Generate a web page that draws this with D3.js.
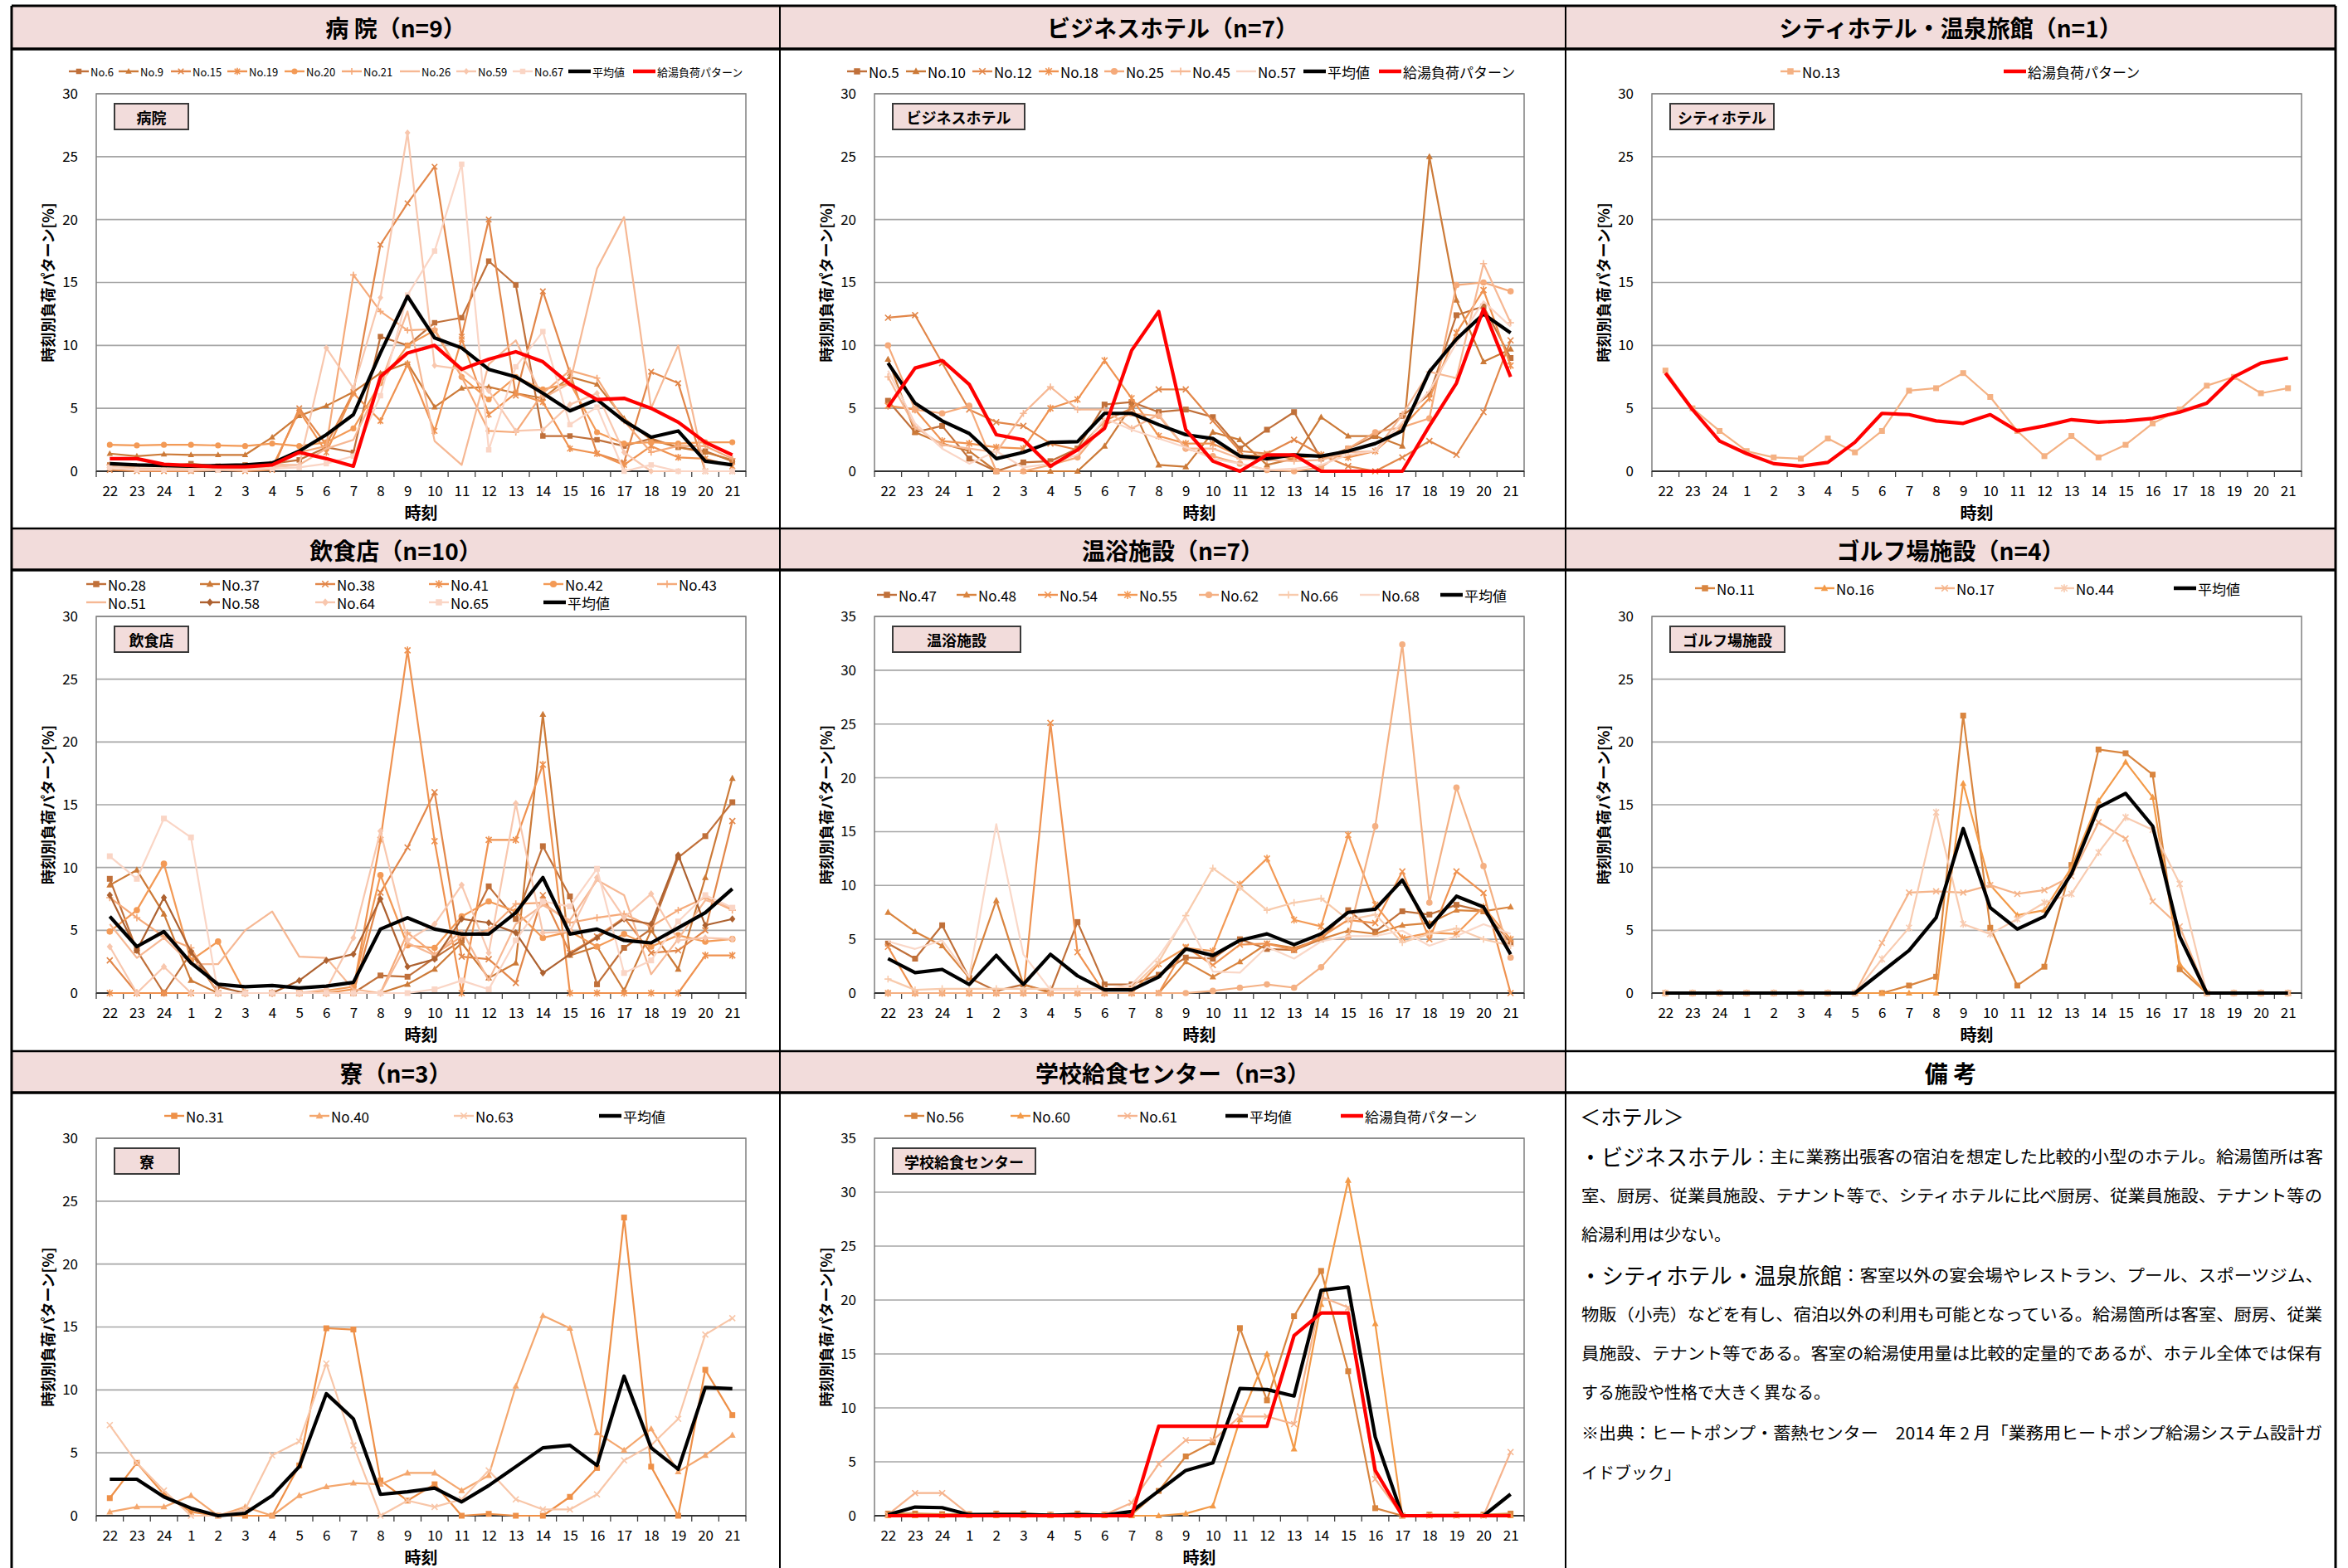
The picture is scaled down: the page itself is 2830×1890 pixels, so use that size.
<!DOCTYPE html>
<html><head><meta charset="utf-8">
<script src="https://cdn.jsdelivr.net/npm/d3@7"></script>
<style>
body{margin:0;background:#fff}
svg{display:block}
text{font-family:"Noto Sans CJK JP","Noto Sans",sans-serif;fill:#000}
</style>
</head><body>
<svg id="c" width="2830" height="1890"></svg>
<script>
// ---------- tick labels ----------
const hours = ["22","23","24","1","2","3","4","5","6","7","8","9","10","11","12","13","14","15","16","17","18","19","20","21"];

// ---------- 病院 ----------
const hosp_No6  = [0.5,0.4,0.4,0.6,0.4,0.5,0.6,0.9,1.9,1.5,10.7,10.0,11.8,12.2,16.7,14.8,2.8,2.8,2.5,2.0,2.6,1.9,1.6,0.8];
const hosp_No9  = [1.4,1.2,1.35,1.3,1.3,1.3,2.7,4.4,5.2,6.3,7.8,8.6,5.1,6.6,6.7,6.2,5.8,7.5,6.9,4.2,2.5,1.9,1.5,0.9];
const hosp_No15 = [0.1,0,0,0,0.1,0,0.1,5.0,2.1,6.3,18.0,21.3,24.2,10.7,20.0,6.0,14.3,7.8,1.4,0.7,7.9,7.0,0,0];
const hosp_No19 = [0.3,0.2,0.2,0.1,0.2,0.2,0.3,4.8,1.5,6.2,4.0,8.5,3.2,10.5,4.5,6.2,5.5,1.8,1.4,0.5,2.0,1.1,1.0,0.4];
const hosp_No20 = [2.1,2.05,2.1,2.1,2.05,2.0,2.2,2.0,2.3,3.4,7.0,10.0,11.2,7.5,5.7,7.5,6.5,7.0,3.1,2.2,2.3,2.2,2.3,2.3];
const hosp_No21 = [0.5,0.4,0.4,0.3,0.3,0.3,0.4,1.5,2.0,15.6,12.7,11.2,11.3,7.5,3.2,3.1,6.2,8.0,7.4,4.0,1.5,2.0,2.0,1.0];
const hosp_No26 = [0.5,0.4,0.4,0.4,0.4,0.4,0.5,0.5,1.8,2.5,7.0,12.7,2.4,0.5,8.5,10.4,5.8,7.0,16.1,20.2,5.0,10.0,0,0];
const hosp_No59 = [0.3,0.2,0.2,0.2,0.2,0.2,0.3,0.5,9.8,6.6,13.8,26.9,8.4,8.1,6.4,3.2,3.3,5.3,6.2,1.5,0,0,0,0];
const hosp_No67 = [0.3,0.1,0.1,0.1,0.1,0.1,0.2,0.3,0.6,1.2,6.0,14.0,17.5,24.4,1.7,8.3,11.1,3.7,5.1,0,0.5,0,0,0];
const hosp_avg  = [0.6,0.5,0.45,0.4,0.45,0.5,0.65,1.6,2.9,4.5,9.4,13.9,10.6,9.8,8.1,7.5,6.2,4.8,5.7,4.0,2.7,3.2,0.8,0.5];
const hosp_pat  = [1.0,1.0,0.55,0.45,0.35,0.35,0.5,1.5,1.0,0.4,7.5,9.4,10.0,8.1,8.9,9.5,8.7,6.9,5.7,5.8,5.0,3.9,2.3,1.3];

// ---------- ビジネスホテル ----------
const biz_No5  = [5.6,3.1,3.6,1.0,0,0.7,0.8,1.8,5.3,5.5,4.7,4.9,4.3,1.8,3.3,4.7,1.0,1.8,2.8,4.4,6.1,12.4,13.1,9.0];
const biz_No10 = [8.9,3.1,2.2,1.6,0,0,0,0,2.0,5.2,0.5,0.35,3.1,2.5,0.5,1.0,4.3,2.8,2.8,2.0,25.0,13.6,8.7,9.7];
const biz_No12 = [12.2,12.4,8.6,4.9,3.9,3.6,2.2,1.7,4.0,5.0,6.5,6.5,4.0,1.6,1.4,2.5,1.3,0.4,0,1.1,2.4,1.3,4.7,10.4];
const biz_No18 = [5.2,4.9,2.4,2.2,1.9,1.8,5.0,5.7,8.8,5.8,2.8,2.2,2.2,1.2,1.3,1.0,1.3,1.1,1.6,3.5,5.8,11.0,14.4,8.4];
const biz_No25 = [10.0,4.9,4.6,5.2,0,0,0.5,1.1,3.7,4.6,4.4,1.8,1.2,0.6,0.1,0,0.3,1.8,3.1,3.5,4.2,14.8,15.0,14.3];
const biz_No45 = [7.5,3.5,2.1,1.8,1.5,4.6,6.7,4.9,4.9,3.4,4.5,1.8,1.8,1.0,0.9,0.8,0.9,1.5,1.6,4.5,7.9,7.4,16.5,11.8];
const biz_No57 = [8.0,3.8,1.8,0.6,1.6,0.3,0.6,1.3,4.2,3.3,2.6,1.9,1.0,0.6,0.1,0.2,0.5,1.3,1.6,3.9,6.4,10.2,13.5,11.5];
const biz_avg  = [8.6,5.4,4.0,3.0,1.0,1.5,2.3,2.35,4.6,4.6,3.7,2.9,2.6,1.2,1.0,1.3,1.2,1.6,2.2,3.2,7.9,10.5,12.5,11.0];
const biz_pat  = [5.1,8.2,8.8,6.9,2.9,2.5,0.4,1.7,3.4,9.6,12.7,3.3,0.8,0,1.3,1.3,0,0,0,0,3.6,7.0,12.9,7.5];

// ---------- シティホテル・温泉旅館 ----------
const city_No13 = [8.0,5.0,3.2,1.6,1.1,1.0,2.6,1.5,3.2,6.4,6.6,7.8,5.9,3.2,1.2,2.8,1.1,2.1,3.8,4.9,6.8,7.5,6.2,6.6];
const city_pat  = [7.8,4.9,2.4,1.4,0.6,0.4,0.7,2.3,4.6,4.5,4.0,3.8,4.5,3.2,3.6,4.1,3.9,4.0,4.2,4.7,5.4,7.5,8.6,9.0];

// ---------- 飲食店 ----------
const rest_No28 = [9.1,3.4,0,3.2,0,0,0,0,0,0,1.4,1.3,2.8,4.2,8.5,5.9,11.7,7.7,0.7,3.6,5.1,10.8,12.5,15.2];
const rest_No37 = [8.6,9.8,6.3,1.0,0,0,0,0,0,0,0,0.7,1.9,4.0,1.2,2.4,22.2,3.0,3.7,0.2,5.0,1.9,9.2,17.1];
const rest_No38 = [2.6,0,0,0,0,0,0,0,0,0,8.0,11.6,16.0,2.9,2.7,0.8,7.8,3.2,4.5,6.0,3.2,3.4,5.0,13.7];
const rest_No41 = [0,0,0,0,0,0,0,0,0,0.3,12.2,27.3,12.1,0,12.2,12.2,18.2,0,0,0,0,0,3.0,3.0];
const rest_No42 = [4.9,6.6,10.3,2.6,4.1,0,0,0,0.2,0.5,9.4,3.8,3.6,6.1,7.3,6.5,4.4,4.9,3.7,4.7,3.7,4.6,4.1,4.3];
const rest_No43 = [7.6,6.0,4.5,3.6,0,0,0,0,0,0,0,4.8,3.1,4.5,5.0,7.1,7.2,5.6,6.0,6.3,5.3,6.6,7.6,6.6];
const rest_No51 = [5.5,2.8,4.4,2.3,2.3,5.0,6.5,2.9,2.8,0.3,0,4.0,3.0,5.0,1.0,5.5,7.0,5.8,9.0,7.8,1.5,4.3,7.4,6.8];
const rest_No58 = [7.8,3.4,7.6,3.3,0.5,0,0,1.0,2.6,3.1,7.5,2.1,2.7,5.9,5.6,4.8,1.6,3.1,4.4,5.9,5.5,11.0,5.4,5.9];
const rest_No64 = [3.7,0,2.1,0,0,0,0,0,0.3,4.4,12.9,4.2,5.5,8.6,3.2,15.1,4.8,4.9,9.2,6.0,7.9,4.2,4.4,4.3];
const rest_No65 = [10.9,9.1,13.9,12.4,0,0,0,0,0,0,0,0,0.3,1.0,0.3,4.2,7.3,6.9,9.9,1.6,2.6,5.7,7.8,6.8];
const rest_avg  = [6.1,3.7,4.9,2.4,0.7,0.5,0.6,0.4,0.55,0.85,5.1,6.0,5.1,4.7,4.7,6.4,9.2,4.7,5.1,4.2,4.0,5.2,6.4,8.3];

// ---------- 温浴施設 ----------
const onsen_No47 = [4.6,3.2,6.3,1.4,0.2,0.8,0.1,6.6,0.8,0.8,1.7,3.3,3.2,5.0,4.1,4.0,5.0,7.7,5.7,7.6,7.3,8.2,7.6,4.7];
const onsen_No48 = [7.5,5.7,4.4,1.4,8.6,0.8,0,0,0,0,0,2.9,1.5,2.9,4.6,4.2,5.0,5.8,5.5,6.3,6.5,7.7,7.6,8.0];
const onsen_No54 = [4.3,0,0,0,0,0,25.1,3.8,0,0,0,4.3,2.6,4.5,4.6,4.0,5.2,6.8,6.5,11.3,5.0,11.3,9.3,0];
const onsen_No55 = [0,0,0,0,0,0,0,0,0,0,2.7,4.2,3.9,10.1,12.5,6.8,6.2,14.7,8.2,5.1,5.6,5.5,8.0,5.0];
const onsen_No62 = [0,0,0,0,0,0,0,0,0,0,0,0,0.2,0.5,0.8,0.5,2.4,5.2,15.5,32.4,8.4,19.1,11.8,3.3];
const onsen_No66 = [1.3,0.3,0.4,0.4,0.4,0.4,0.4,0.4,0.4,0.5,2.9,7.2,11.6,9.8,7.7,8.4,8.8,6.8,7.3,4.7,5.5,6.0,5.0,4.4];
const onsen_No68 = [4.8,4.1,4.9,1.5,15.7,3.6,0.3,0.3,0.3,0.8,3.4,7.0,2.0,1.9,4.3,3.2,4.8,5.3,5.3,5.8,4.4,5.3,6.4,5.5];
const onsen_avg  = [3.2,1.9,2.2,0.8,3.5,0.8,3.6,1.6,0.3,0.3,1.5,4.1,3.5,4.9,5.5,4.5,5.5,7.5,7.8,10.5,6.1,9.0,8.0,3.6];

// ---------- ゴルフ場施設 ----------
const golf_No11 = [0,0,0,0,0,0,0,0,0,0.6,1.3,22.1,5.2,0.6,2.1,10.2,19.4,19.1,17.4,1.9,0,0,0,0];
const golf_No16 = [0,0,0,0,0,0,0,0,0,0,0,16.7,8.6,6.2,6.6,10.0,15.3,18.4,15.6,2.3,0,0,0,0];
const golf_No17 = [0,0,0,0,0,0,0,0,4.0,8.0,8.1,8.0,8.6,7.9,8.2,9.3,13.6,12.3,7.3,5.3,0,0,0,0];
const golf_No44 = [0,0,0,0,0,0,0,0,2.7,5.2,14.4,5.5,4.7,5.9,7.2,7.9,11.2,14.0,13.0,8.7,0,0,0,0];
const golf_avg  = [0,0,0,0,0,0,0,0,1.7,3.4,6.0,13.1,6.8,5.1,6.1,9.5,14.8,15.9,13.3,4.5,0,0,0,0];

// ---------- 寮 ----------
const dorm_No31 = [1.4,4.2,1.7,0.3,0,0,0,4.0,14.9,14.8,2.8,1.2,2.5,0,0.15,0,0,1.5,3.8,23.7,3.9,0,11.6,8.0];
const dorm_No40 = [0.3,0.7,0.7,1.6,0,0.7,0,1.6,2.3,2.6,2.5,3.4,3.4,2.0,3.2,10.3,15.9,14.9,6.6,5.2,6.9,3.5,4.8,6.4];
const dorm_No63 = [7.2,4.2,2.0,0,0,0.5,4.8,5.9,12.1,5.6,0,1.2,0.7,1.3,3.6,1.3,0.5,0.5,1.7,4.4,5.6,7.7,14.4,15.7];
const dorm_avg  = [2.9,2.9,1.5,0.6,0,0.2,1.6,3.9,9.7,7.7,1.7,1.9,2.2,1.1,2.4,3.9,5.4,5.6,4.0,11.1,5.4,3.7,10.2,10.1];

// ---------- 学校給食センター ----------
const school_No56 = [0.2,0.2,0.15,0.15,0.2,0.2,0.1,0.2,0.1,0.1,2.3,5.5,6.8,17.4,10.7,18.5,22.7,13.4,0.7,0,0.1,0.1,0.1,0.2];
const school_No60 = [0,0,0,0,0,0,0,0,0,0,0,0.2,0.9,8.9,15.0,6.2,19.6,31.1,17.8,0,0,0,0,0];
const school_No61 = [0.1,2.1,2.1,0.1,0.1,0.1,0.1,0.1,0.1,1.2,4.8,7.0,7.0,9.2,9.2,8.5,20.3,19.3,3.4,0,0,0,0,5.9];
const school_avg  = [0.1,0.8,0.75,0.1,0.1,0.1,0.05,0.1,0.05,0.4,2.3,4.2,4.9,11.8,11.7,11.1,20.9,21.2,7.3,0,0,0,0,2.0];
const school_pat  = [0,0,0,0,0,0,0,0,0,0,8.3,8.3,8.3,8.3,8.3,16.7,18.8,18.8,4.2,0,0,0,0,0];

// ---------- styles ----------
const C = {o1:"#c0703a",o2:"#cc7a38",o3:"#e2874a",o4:"#ef9250",o5:"#f39a56",o6:"#f5aa7a",o7:"#f6b894",o8:"#f8c7ae",o9:"#fad5c5",dk:"#ad6130",avg:"#000000",pat:"#ff0000"};
const AVG = "平均値", PAT = "給湯負荷パターン";

const panels = [
 {col:0,row:0,title:"病 院（n=9）",label:"病院",boxW:89,yMax:30,lf:13,ly:86,lx:[83,143,206,274,343,412,482,550,618,685,763],
  series:[["No.6",hosp_No6,"square",C.o1],["No.9",hosp_No9,"triangle",C.o2],["No.15",hosp_No15,"x",C.o3],["No.19",hosp_No19,"asterisk",C.o4],["No.20",hosp_No20,"circle",C.o5],["No.21",hosp_No21,"plus",C.o6],["No.26",hosp_No26,"none",C.o7],["No.59",hosp_No59,"diamond",C.o8],["No.67",hosp_No67,"square",C.o9],[AVG,hosp_avg,"avg",C.avg],[PAT,hosp_pat,"avg",C.pat]]},
 {col:1,row:0,title:"ビジネスホテル（n=7）",label:"ビジネスホテル",boxW:159,yMax:30,lf:17,ly:86,lx:[1021,1092,1172,1252,1331,1411,1490,1571,1662],
  series:[["No.5",biz_No5,"square",C.o1],["No.10",biz_No10,"triangle",C.o2],["No.12",biz_No12,"x",C.o3],["No.18",biz_No18,"asterisk",C.o4],["No.25",biz_No25,"circle",C.o6],["No.45",biz_No45,"plus",C.o7],["No.57",biz_No57,"none",C.o9],[AVG,biz_avg,"avg",C.avg],[PAT,biz_pat,"avg",C.pat]]},
 {col:2,row:0,title:"シティホテル・温泉旅館（n=1）",label:"シティホテル",boxW:125,yMax:30,lf:17,ly:86,lx:[2146,2415],
  series:[["No.13",city_No13,"square","#f4b183"],[PAT,city_pat,"avg",C.pat]]},
 {col:0,row:1,title:"飲食店（n=10）",label:"飲食店",boxW:89,yMax:30,lf:17,ly:[704,704,704,704,704,704,726,726,726,726,726],lx:[104,241,380,517,655,792,104,241,380,517,655],
  series:[["No.28",rest_No28,"square",C.o1],["No.37",rest_No37,"triangle",C.o2],["No.38",rest_No38,"x",C.o3],["No.41",rest_No41,"asterisk",C.o4],["No.42",rest_No42,"circle",C.o5],["No.43",rest_No43,"plus",C.o6],["No.51",rest_No51,"none",C.o7],["No.58",rest_No58,"diamond",C.dk],["No.64",rest_No64,"diamond",C.o8],["No.65",rest_No65,"square",C.o9],[AVG,rest_avg,"avg",C.avg]]},
 {col:1,row:1,title:"温浴施設（n=7）",label:"温浴施設",boxW:154,yMax:35,lf:17,ly:717,lx:[1057,1153,1251,1347,1445,1541,1639,1736],
  series:[["No.47",onsen_No47,"square",C.o1],["No.48",onsen_No48,"triangle","#d9843f"],["No.54",onsen_No54,"x",C.o4],["No.55",onsen_No55,"asterisk",C.o5],["No.62",onsen_No62,"circle","#f4b083"],["No.66",onsen_No66,"plus","#f8cbad"],["No.68",onsen_No68,"none","#fad8c8"],[AVG,onsen_avg,"avg",C.avg]]},
 {col:2,row:1,title:"ゴルフ場施設（n=4）",label:"ゴルフ場施設",boxW:138,yMax:30,lf:17,ly:709,lx:[2043,2187,2332,2476,2620],
  series:[["No.11",golf_No11,"square","#d9853f"],["No.16",golf_No16,"triangle","#f39a48"],["No.17",golf_No17,"x","#f5b48a"],["No.44",golf_No44,"asterisk","#f8cbb0"],[AVG,golf_avg,"avg",C.avg]]},
 {col:0,row:2,title:"寮（n=3）",label:"寮",boxW:78,yMax:30,lf:17,ly:1345,lx:[198,373,547,722],
  series:[["No.31",dorm_No31,"square","#ee9048"],["No.40",dorm_No40,"triangle","#f4a76e"],["No.63",dorm_No63,"x","#f8c6a8"],[AVG,dorm_avg,"avg",C.avg]]},
 {col:1,row:2,title:"学校給食センター（n=3）",label:"学校給食センター",boxW:172,yMax:35,lf:17,ly:1345,lx:[1090,1218,1347,1477,1616],
  series:[["No.56",school_No56,"square","#d8843e"],["No.60",school_No60,"triangle","#f39a48"],["No.61",school_No61,"x","#f6b48e"],[AVG,school_avg,"avg",C.avg],[PAT,school_pat,"avg",C.pat]]}
];

const notes = [
 {y:1345,parts:[{t:"＜ホテル＞",s:25,x:1904,len:126}]},
 {y:1393,parts:[{t:"・ビジネスホテル",s:27,x:1904,len:208},{t:"：主に業務出張客の宿泊を想定した比較的小型のホテル。給湯箇所は客",s:20,x:2112,len:688}]},
 {y:1440,parts:[{t:"室、厨房、従業員施設、テナント等で、シティホテルに比べ厨房、従業員施設、テナント等の",s:20,x:1906,len:893}]},
 {y:1487,parts:[{t:"給湯利用は少ない。",s:20,x:1906}]},
 {y:1536,parts:[{t:"・シティホテル・温泉旅館",s:27,x:1904,len:316},{t:"：客室以外の宴会場やレストラン、プール、スポーツジム、",s:20,x:2220,len:580}]},
 {y:1583,parts:[{t:"物販（小売）などを有し、宿泊以外の利用も可能となっている。給湯箇所は客室、厨房、従業",s:20,x:1906,len:893}]},
 {y:1630,parts:[{t:"員施設、テナント等である。客室の給湯使用量は比較的定量的であるが、ホテル全体では保有",s:20,x:1906,len:893}]},
 {y:1677,parts:[{t:"する施設や性格で大きく異なる。",s:20,x:1906}]},
 {y:1726,parts:[{t:"※出典：ヒートポンプ・蓄熱センター　2014 年 2 月「業務用ヒートポンプ給湯システム設計ガ",s:20,x:1906,len:893}]},
 {y:1774,parts:[{t:"イドブック」",s:20,x:1906}]}
];

// ---------- layout ----------
const colX = [14, 940, 1887, 2815];
const rowTop = [7, 637, 1267];
const headH = [52, 50, 50];
const plotL = [116, 1054, 1991];
const plotW = 783;
const plotT = [113, 743, 1372];
const plotB = [568, 1197, 1827];
const PINK = "#f2dcdb";

const svg = d3.select("#c");
svg.append("rect").attr("width",2830).attr("height",1890).attr("fill","#fff");

function markerPath(type, s){
  const h = s/2;
  switch(type){
    case "square": return `M${-h},${-h}h${s}v${s}h${-s}Z`;
    case "triangle": return `M0,${-h*1.25}L${h*1.15},${h*0.85}L${-h*1.15},${h*0.85}Z`;
    case "circle": return d3.symbol(d3.symbolCircle, Math.PI*h*h*1.2)();
    case "diamond": return `M0,${-h*1.25}L${h*1.05},0L0,${h*1.25}L${-h*1.05},0Z`;
    case "x": return `M${-h},${-h}L${h},${h}M${-h},${h}L${h},${-h}`;
    case "asterisk": return `M${-h},${-h}L${h},${h}M${-h},${h}L${h},${-h}M0,${-h*1.3}L0,${h*1.3}`;
    case "plus": return `M${-h*1.2},0L${h*1.2},0M0,${-h*1.2}L0,${h*1.2}`;
  }
  return null;
}
const filled = t => ["square","triangle","circle","diamond"].includes(t);

function drawMarker(g, type, color, x, y, s){
  const p = markerPath(type, s);
  if(!p) return;
  const m = g.append("path").attr("d",p).attr("transform",`translate(${x},${y})`);
  if(filled(type)) m.attr("fill",color).attr("stroke","none");
  else m.attr("fill","none").attr("stroke",color).attr("stroke-width",1.6);
}

panels.forEach(p=>{
  const c=p.col, r=p.row;
  const cx0=colX[c], cx1=colX[c+1];
  const g = svg.append("g");
  // header
  g.append("rect").attr("x",cx0).attr("y",rowTop[r]).attr("width",cx1-cx0).attr("height",headH[r]).attr("fill",PINK);
  g.append("text").attr("x",(cx0+cx1)/2).attr("y",rowTop[r]+25.5).attr("text-anchor","middle")
    .attr("dominant-baseline","central").attr("font-size",28).attr("font-weight","bold").text(p.title);

  const L=plotL[c], R=L+plotW, T=plotT[r], B=plotB[r];
  const x = d3.scalePoint().domain(hours).range([L,R]).padding(0.5);
  const y = d3.scaleLinear().domain([0,p.yMax]).range([B,T]);
  const step = x.step();
  const ticks = d3.range(0,p.yMax+0.1,5);

  // grid
  g.append("g").selectAll("line").data(ticks.filter(t=>t>0)).join("line")
    .attr("x1",L).attr("x2",R).attr("y1",d=>y(d)).attr("y2",d=>y(d))
    .attr("stroke","#a6a6a6").attr("stroke-width",1.6);
  g.append("rect").attr("x",L).attr("y",T).attr("width",plotW).attr("height",B-T)
    .attr("fill","none").attr("stroke","#7f7f7f").attr("stroke-width",1.5);
  // x axis boundary ticks
  g.append("g").selectAll("line").data(d3.range(25)).join("line")
    .attr("x1",i=>L+i*step).attr("x2",i=>L+i*step).attr("y1",B).attr("y2",B+7)
    .attr("stroke","#404040").attr("stroke-width",1.3);
  g.append("line").attr("x1",L).attr("x2",R).attr("y1",B).attr("y2",B).attr("stroke","#333").attr("stroke-width",2);

  const xa = g.append("g").attr("transform",`translate(0,${B})`).call(d3.axisBottom(x).tickSize(0).tickPadding(18));
  xa.select(".domain").remove();
  xa.selectAll("text").attr("font-size",17).attr("font-family",'"Noto Sans CJK JP",sans-serif').attr("fill","#000");
  const ya = g.append("g").attr("transform",`translate(${L},0)`).call(d3.axisLeft(y).tickValues(ticks).tickSize(0).tickPadding(22));
  ya.select(".domain").remove();
  ya.selectAll("text").attr("font-size",17).attr("font-family",'"Noto Sans CJK JP",sans-serif').attr("fill","#000");

  // axis titles
  g.append("text").attr("transform",`translate(${L-59},${(T+B)/2}) rotate(-90)`).attr("text-anchor","middle")
    .attr("dominant-baseline","central").attr("font-size",18).attr("font-weight","bold").text("時刻別負荷パターン[%]");
  g.append("text").attr("x",(L+R)/2).attr("y",B+49).attr("text-anchor","middle").attr("dominant-baseline","central")
    .attr("font-size",20).attr("font-weight","bold").text("時刻");

  // label box
  g.append("rect").attr("x",L+22).attr("y",T+12).attr("width",p.boxW).attr("height",31)
    .attr("fill",PINK).attr("stroke","#3a3a3a").attr("stroke-width",2);
  g.append("text").attr("x",L+22+p.boxW/2).attr("y",T+12+15.5).attr("text-anchor","middle").attr("dominant-baseline","central")
    .attr("font-size",18).attr("font-weight","bold").text(p.label);

  // series
  const line = d3.line().x((d,i)=>x(hours[i])).y(d=>y(d));
  const members = p.series.filter(s=>s[2]!=="avg");
  const thick = p.series.filter(s=>s[2]==="avg");
  const ms = p.col===0&&p.row===0 ? 6.5 : 7;
  members.forEach(s=>{
    const [name,vals,mk,col] = s;
    g.append("path").attr("d",line(vals)).attr("fill","none").attr("stroke",col).attr("stroke-width",2.2).attr("stroke-linejoin","round");
    if(mk!=="none") vals.forEach((v,i)=>drawMarker(g,mk,col,x(hours[i]),y(v),ms));
  });
  thick.forEach(s=>{
    g.append("path").attr("d",line(s[1])).attr("fill","none").attr("stroke",s[3]).attr("stroke-width",4.2).attr("stroke-linejoin","round");
  });

  // legend
  p.series.forEach((s,i)=>{
    const lx = p.lx[i];
    const ly = Array.isArray(p.ly) ? p.ly[i] : p.ly;
    const isThick = s[2]==="avg";
    const sw = isThick ? 27 : 24;
    g.append("line").attr("x1",lx).attr("x2",lx+sw).attr("y1",ly).attr("y2",ly)
      .attr("stroke",s[3]).attr("stroke-width",isThick?4.5:2.4);
    if(!isThick && s[2]!=="none") drawMarker(g,s[2],s[3],lx+sw/2,ly,p.lf<15?6.5:7.5);
    g.append("text").attr("x",lx+sw+2).attr("y",ly).attr("dominant-baseline","central")
      .attr("font-size",p.lf).text(s[0]);
  });
});

// notes panel
const nx0=colX[2], nx1=colX[3];
svg.append("text").attr("x",(nx0+nx1)/2).attr("y",rowTop[2]+25.5).attr("text-anchor","middle").attr("dominant-baseline","central")
  .attr("font-size",28).attr("font-weight","bold").text("備 考");
notes.forEach(n=>{
  n.parts.forEach(pt=>{
    const t = svg.append("text").attr("x",pt.x).attr("y",n.y).attr("dominant-baseline","central").attr("font-size",pt.s).text(pt.t);
    if(pt.len) t.attr("textLength",pt.len).attr("lengthAdjust","spacingAndGlyphs");
  });
});

// borders
const B = svg.append("g").attr("stroke","#000").attr("fill","none");
B.append("line").attr("x1",colX[0]).attr("x2",colX[3]).attr("y1",rowTop[0]).attr("y2",rowTop[0]).attr("stroke-width",3);
[0,1,2].forEach(r=>{
  B.append("line").attr("x1",colX[0]).attr("x2",colX[3]).attr("y1",rowTop[r]+headH[r]).attr("y2",rowTop[r]+headH[r]).attr("stroke-width",3.5);
  if(r>0) B.append("line").attr("x1",colX[0]).attr("x2",colX[3]).attr("y1",rowTop[r]).attr("y2",rowTop[r]).attr("stroke-width",2.5);
});
colX.forEach((cx,i)=>{
  B.append("line").attr("x1",cx).attr("x2",cx).attr("y1",rowTop[0]).attr("y2",1890).attr("stroke-width",(i===0||i===3)?3:2);
});
</script>
</body></html>
